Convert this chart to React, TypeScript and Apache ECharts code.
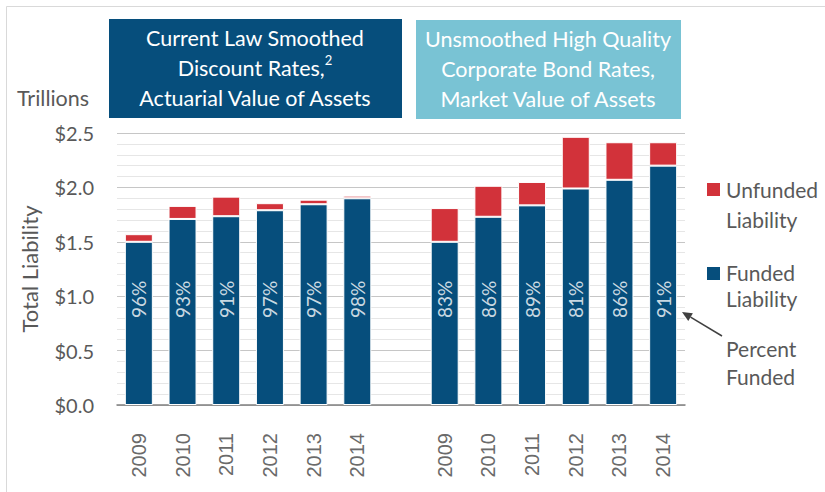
import React, { useEffect, useRef } from "react";
import * as echarts from "echarts";

const categories = ["2009", "2010", "2011", "2012", "2013", "2014", "", "2009", "2010", "2011", "2012", "2013", "2014"];
const fundedLiability = [1.50, 1.71, 1.735, 1.79, 1.845, 1.90, null, 1.50, 1.73, 1.835, 1.99, 2.07, 2.20];
const unfundedLiability = [0.07, 0.12, 0.18, 0.065, 0.042, 0.024, null, 0.31, 0.285, 0.215, 0.475, 0.345, 0.215];
const percentFunded = [96, 93, 91, 97, 97, 98, null, 83, 86, 89, 81, 86, 91];
const yTicks = [0, 0.5, 1.0, 1.5, 2.0, 2.5];

const FONT = "Lato, 'Open Sans', sans-serif";
const YEAR_FONT = "'Liberation Sans', Arial, sans-serif";
const GRAY = "#595959";
const BLUE = "#064e7c";
const RED = "#d2323a";
const TEAL = "#79c3d4";
const W = 400;

export default function App() {
  const ref = useRef<HTMLDivElement>(null);
  useEffect(() => {
    if (!ref.current) return;
    const chart = echarts.init(ref.current, null, { renderer: "svg" });
    const labelY = 0.97;
    const tipX = 682, tipY = 312, tailX = 722, tailY = 336;
    const dx = tailX - tipX, dy = tailY - tipY;
    const len = Math.sqrt(dx * dx + dy * dy);
    const ux = dx / len, uy = dy / len;
    const bx = tipX + ux * 10, by = tipY + uy * 10;
    const px = -uy * 4.5, py = ux * 4.5;
    chart.setOption({
      animation: false,
      backgroundColor: "#ffffff",
      textStyle: { fontFamily: FONT, fontWeight: W },
      grid: { left: 117, right: 140, top: 133, bottom: 87, containLabel: false },
      xAxis: {
        type: "category",
        data: categories,
        axisTick: { show: false },
        axisLine: { lineStyle: { color: "#808080", width: 1.5 } },
        axisLabel: { rotate: 90, margin: 28, color: "#6a6a6a", fontSize: 20, fontFamily: YEAR_FONT },
      },
      yAxis: {
        type: "value",
        min: yTicks[0],
        max: yTicks[yTicks.length - 1],
        interval: 0.5,
        name: "Total Liability",
        nameLocation: "middle",
        nameGap: 77,
        nameRotate: 90,
        nameTextStyle: { color: GRAY, fontSize: 22, fontFamily: FONT, fontWeight: W },
        axisLine: { show: false },
        axisTick: { show: false },
        axisLabel: { color: GRAY, fontSize: 20, margin: 23, fontFamily: FONT, fontWeight: W, formatter: (v: number) => "$" + v.toFixed(1) },
        splitLine: { lineStyle: { color: "#c6c6c6", width: 1.2 } },
        minorTick: { show: false, splitNumber: 5 },
        minorSplitLine: { show: true, lineStyle: { color: "#e6e6e6", width: 1.2 } },
      },
      series: [
        {
          name: "Funded Liability",
          type: "bar",
          stack: "total",
          barWidth: 28,
          data: fundedLiability,
          itemStyle: { color: BLUE, borderColor: "#ffffff", borderWidth: 1 },
        },
        {
          name: "Unfunded Liability",
          type: "bar",
          stack: "total",
          barWidth: 28,
          data: unfundedLiability,
          itemStyle: { color: RED, borderColor: "#ffffff", borderWidth: 1 },
        },
        {
          name: "Percent Funded",
          type: "scatter",
          symbolSize: 0,
          data: percentFunded.map((p) => (p == null ? null : labelY)),
          label: {
            show: true,
            position: "inside",
            rotate: 90,
            color: "#ffffff",
            fontSize: 19,
            fontFamily: FONT,
            fontWeight: W,
            formatter: (p: any) => percentFunded[p.dataIndex] + "%",
          },
          z: 5,
        },
      ],
      graphic: [
        { type: "rect", shape: { x: 6.5, y: 6.5, width: 900, height: 600 }, style: { fill: "none", stroke: "#d9d9d9", lineWidth: 1 }, silent: true },
        { type: "rect", shape: { x: 109, y: 19, width: 293, height: 99 }, style: { fill: BLUE } },
        {
          type: "text", x: 255, y: 68,
          style: {
            text: "{t|Current Law Smoothed}\n{t|Discount Rates,}{s|2}\n{t|Actuarial Value of Assets}",
            align: "center", verticalAlign: "middle", fill: "#ffffff",
            rich: {
              t: { fontSize: 21.5, lineHeight: 30, fill: "#ffffff", fontFamily: FONT, fontWeight: W },
              s: { fontSize: 13, lineHeight: 30, fill: "#ffffff", fontFamily: FONT, fontWeight: W, verticalAlign: "top", padding: [0, 0, 8, 0] },
            },
          },
        },
        { type: "rect", shape: { x: 416, y: 20, width: 265, height: 99 }, style: { fill: TEAL } },
        {
          type: "text", x: 548, y: 69,
          style: {
            text: "Unsmoothed High Quality\nCorporate Bond Rates,\nMarket Value of Assets",
            align: "center", verticalAlign: "middle", fill: "#ffffff", fontSize: 21.5, lineHeight: 30, fontFamily: FONT, fontWeight: W,
          },
        },
        { type: "text", x: 17, y: 98, style: { text: "Trillions", fill: GRAY, fontSize: 21.5, fontFamily: FONT, fontWeight: W, verticalAlign: "middle" } },
        { type: "rect", shape: { x: 707, y: 183, width: 13, height: 13 }, style: { fill: RED } },
        { type: "text", x: 726, y: 204, style: { text: "Unfunded\nLiability", fill: GRAY, fontSize: 21, lineHeight: 30, fontFamily: FONT, fontWeight: W, verticalAlign: "middle" } },
        { type: "rect", shape: { x: 707, y: 267, width: 13, height: 13 }, style: { fill: BLUE } },
        { type: "text", x: 726, y: 285, style: { text: "Funded\nLiability", fill: GRAY, fontSize: 21, lineHeight: 26, fontFamily: FONT, fontWeight: W, verticalAlign: "middle" } },
        { type: "text", x: 726, y: 362, style: { text: "Percent\nFunded", fill: GRAY, fontSize: 21, lineHeight: 28, fontFamily: FONT, fontWeight: W, verticalAlign: "middle" } },
        { type: "line", shape: { x1: tailX, y1: tailY, x2: bx, y2: by }, style: { stroke: "#404040", lineWidth: 1.5 } },
        { type: "polygon", shape: { points: [[tipX, tipY], [bx + px, by + py], [bx - px, by - py]] }, style: { fill: "#404040" } },
      ],
    });
    return () => chart.dispose();
  }, []);
  return <div ref={ref} style={{ position: "fixed", left: 0, top: 0, width: 825, height: 492 }} />;
}
